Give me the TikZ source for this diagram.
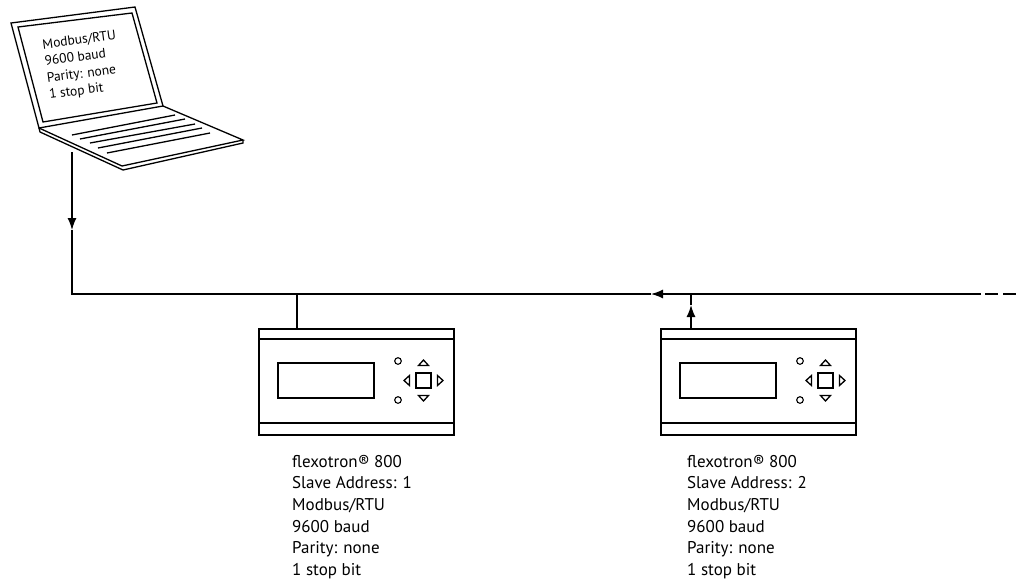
\documentclass[tikz,border=0pt]{standalone}
\usepackage{fontspec}
\setmainfont{PT Sans}
\usetikzlibrary{arrows.meta}
\tikzset{
  ln/.style={line width=1.3pt, line join=miter},
  tip/.style={-{Latex[length=12pt,width=9pt]}},
  devtext/.style={anchor=north west, align=left, inner sep=0pt, font=\fontsize{17}{21.7}\selectfont},
  lcdtext/.style={anchor=north west, align=left, inner sep=0pt, rotate=7.5, font=\fontsize{13.5}{16.8}\selectfont},
  devbox/.style={draw, line width=1.5pt, minimum width=195pt, minimum height=106pt, inner sep=0pt, anchor=north west},
  device/.pic={
    \draw[ln] (0,11) -- (195,11);
    \draw[ln] (0,95) -- (195,95);
    \draw[ln] (20,35) rectangle (116,70);
    \draw[line width=1.1pt] (140,33) circle (3.3);
    \draw[line width=1.1pt] (140,72) circle (3.3);
    \draw[ln] (158,45) rectangle (173,60);
    \draw[line width=1.3pt, fill=white] (160.5,37.5) -- (170.5,37.5) -- (165.5,32) -- cycle;
    \draw[line width=1.3pt, fill=white] (160.5,67.5) -- (170.5,67.5) -- (165.5,73) -- cycle;
    \draw[line width=1.3pt, fill=white] (151.5,47.5) -- (151.5,57.5) -- (146,52.5) -- cycle;
    \draw[line width=1.3pt, fill=white] (179.5,47.5) -- (179.5,57.5) -- (185,52.5) -- cycle;
  }
}
\begin{document}
\begin{tikzpicture}[x=1pt, y=-1pt]
\useasboundingbox (0,0) rectangle (1021,582);

% laptop
\draw[ln] (11,23) -- (135,7) -- (163,106) -- (39,128) -- cycle;
\draw[ln] (18,27) -- (132,13) -- (157,103) -- (43,122) -- cycle;
\draw[ln] (39,128) -- (122,166) -- (243,140) -- (163,106);
\draw[ln] (39,128) -- (40,132) -- (123,170) -- (243,143) -- (243,140);
\foreach \a/\b/\c/\d in {72/135/175/115, 80/139/185/119, 90/143/195/124, 98/148/202/128, 107/153/210/133}
  \draw[ln] (\a,\b) -- (\c,\d);
\node[lcdtext] (lcd) at (41.7,39.3) {Modbus/RTU\\9600 baud\\Parity: none\\1 stop bit};

% devices
\node[devbox] (dev1) at (258,328) {};
\pic at (258,328) {device};
\node[devbox] (dev2) at (660,328) {};
\pic at (660,328) {device};

\node[devtext] (t1) at (292,454.8) {flexotron® 800\\Slave Address: 1\\Modbus/RTU\\9600 baud\\Parity: none\\1 stop bit};
\node[devtext] (t2) at (687,454.8) {flexotron® 800\\Slave Address: 2\\Modbus/RTU\\9600 baud\\Parity: none\\1 stop bit};

% bus
\coordinate (lapout) at (72,152);
\coordinate (downtip) at (72,230);
\coordinate (corner) at (72,294);
\coordinate (busend) at (981,294);
\coordinate (bustip) at (651,294);
\coordinate (drop1) at (297,294);
\coordinate (drop2) at (691,294);
\coordinate (uptip) at (691,305);
\coordinate (dashstart) at (985,294);
\coordinate (dashend) at (1021,294);

\draw[ln, tip] (lapout) -- (downtip);
\draw[ln] (downtip) -- (corner) -- (bustip);
\draw[ln, tip] (busend) -- (bustip);
\draw[ln, dash pattern=on 13pt off 5pt] (dashstart) -- (dashend);
\draw[ln] (drop1) -- (dev1.north -| drop1);
\draw[ln, tip] (dev2.north -| drop2) -- (uptip);
\draw[ln] (uptip) -- (drop2);
\end{tikzpicture}
\end{document}
